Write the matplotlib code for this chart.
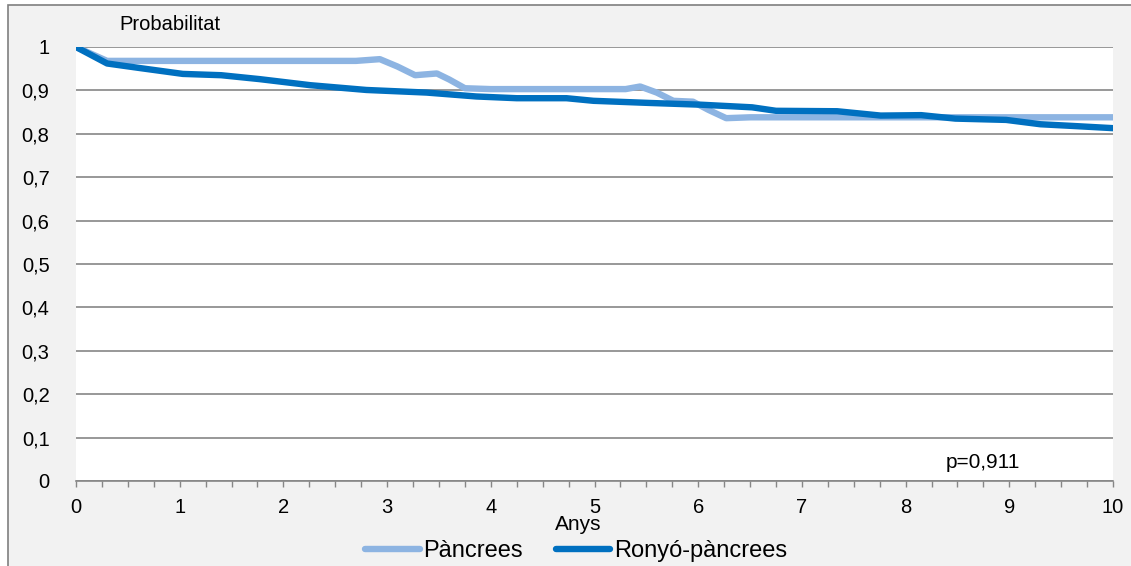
import matplotlib.pyplot as plt
from matplotlib.patches import Rectangle
import numpy as np

plt.rcParams['font.family'] = ['Liberation Sans', 'DejaVu Sans']

# Pàncrees
x_panc = [0, 0.3, 0.5, 1, 2, 2.7, 2.93, 3.1, 3.27, 3.48, 3.6, 3.75, 4, 5, 5.3, 5.44,
          5.6, 5.76, 5.95, 6.1, 6.27, 6.5, 7, 8, 9, 10]
y_panc = [1.0, 0.968, 0.968, 0.968, 0.968, 0.968, 0.972, 0.955, 0.935, 0.939, 0.925, 0.905,
          0.903, 0.903, 0.903, 0.909, 0.895, 0.876, 0.874, 0.855, 0.836, 0.838, 0.838,
          0.838, 0.838, 0.838]

# Ronyó-pàncrees
x_rp = [0, 0.3, 0.6, 1.03, 1.4, 1.77, 2.26, 2.8, 3.38, 3.86, 4.25, 4.73, 4.99, 5.54,
        6.03, 6.52, 6.75, 7.34, 7.76, 8.15, 8.48, 8.97, 9.3, 9.62, 10]
y_rp = [1.0, 0.962, 0.952, 0.938, 0.935, 0.926, 0.912, 0.901, 0.895, 0.886, 0.882, 0.882,
        0.876, 0.871, 0.867, 0.861, 0.853, 0.852, 0.842, 0.843, 0.835, 0.832, 0.822,
        0.818, 0.813]

ytick_vals = [0, 0.1, 0.2, 0.3, 0.4, 0.5, 0.6, 0.7, 0.8, 0.9, 1]
ytick_labels = ['0', '0,1', '0,2', '0,3', '0,4', '0,5', '0,6', '0,7', '0,8', '0,9', '1']
xtick_vals = list(range(11))

W, H = 1131, 566
fig = plt.figure(figsize=(W / 100, H / 100), dpi=100)
fig.patch.set_facecolor('white')

# chart frame (grey background with border)
frame = Rectangle((8 / W, -0.01), 1.01 - 8 / W, 1.01 - 5 / H, transform=fig.transFigure,
                  facecolor='#f2f2f2', edgecolor='#7f7f7f', linewidth=1.2, zorder=-10)
fig.add_artist(frame)

ax = fig.add_axes([76 / W, 85 / H, (1113 - 76) / W, (481 - 47) / H])
ax.set_zorder(5)
ax.set_facecolor('white')
for s in ['top', 'right', 'left']:
    ax.spines[s].set_visible(False)
ax.spines['bottom'].set_color('#868686')
ax.spines['bottom'].set_linewidth(1.2)

ax.plot(x_panc, y_panc, color='#8db4e2', linewidth=4.6, solid_capstyle='round',
        solid_joinstyle='round', label='Pàncrees', zorder=3)
ax.plot(x_rp, y_rp, color='#0070c0', linewidth=4.6, solid_capstyle='round',
        solid_joinstyle='round', label='Ronyó-pàncrees', zorder=4)

ax.set_xlim(0, 10)
ax.set_ylim(0, 1)
ax.set_yticks(ytick_vals)
ax.set_yticklabels(ytick_labels)
ax.set_xticks(xtick_vals)
ax.set_xticks(np.arange(0, 10.01, 0.25), minor=True)
ax.tick_params(axis='y', length=0, pad=19, labelsize=14.5)
ax.tick_params(axis='x', which='both', direction='out', length=4, color='#868686',
               width=1, pad=8, labelsize=14.5)
ax.grid(axis='y', color='#868686', linewidth=1.2)
ax.set_axisbelow(True)

fig.text(170 / W, 1 - 25 / H, 'Probabilitat', fontsize=14.5, ha='center', va='center')
fig.text(578 / W, 1 - 524 / H, 'Anys', fontsize=15, ha='center', va='center')
ax.text(8.746, 0.042, 'p=0,911', fontsize=15, ha='center', va='center')

fig.legend(loc='center', bbox_to_anchor=(576 / W, 1 - 551 / H), ncol=2, frameon=False,
           fontsize=17, handlelength=2.3, handletextpad=0.15, columnspacing=1.4,
           borderaxespad=0, borderpad=0)

fig.savefig('out.png', dpi=100, facecolor=fig.get_facecolor())
